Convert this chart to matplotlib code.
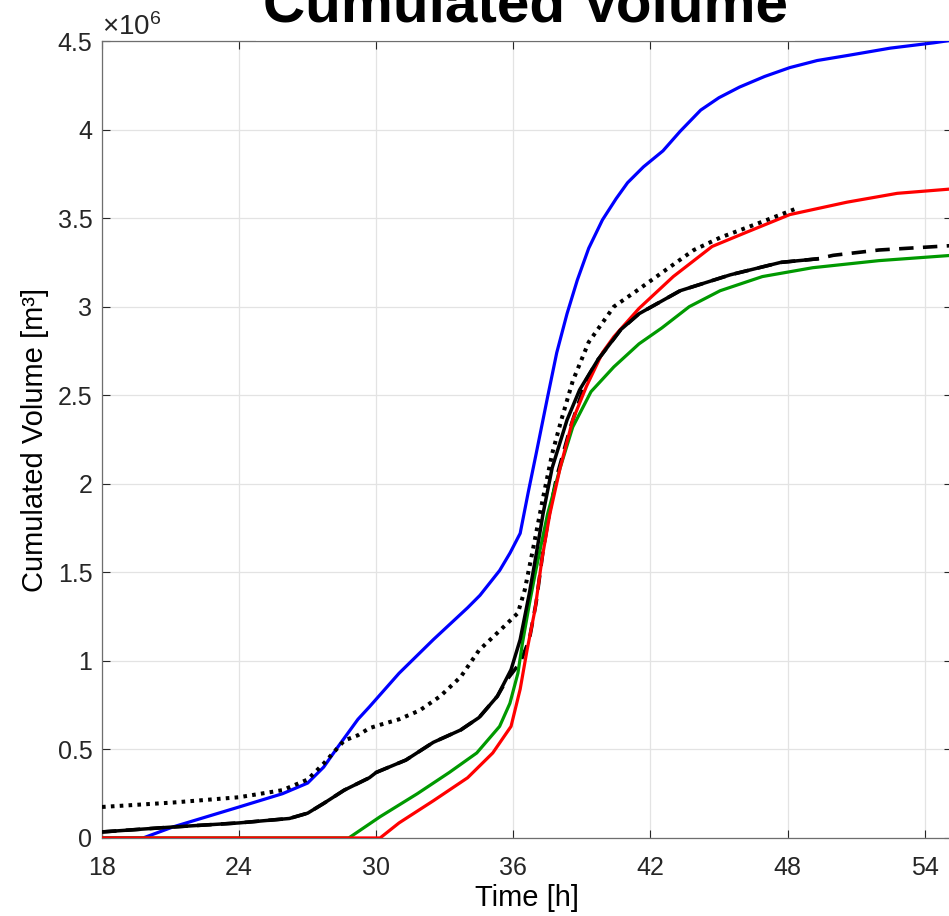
import matplotlib.pyplot as plt
from matplotlib.ticker import FuncFormatter

plt.rcParams['font.family'] = ['Liberation Sans', 'DejaVu Sans']
plt.rcParams['mathtext.default'] = 'regular'

# values in 10^6 m3, time in hours
blue_t = [18, 19.8, 21.1, 24.0, 25.9, 27.0, 27.7, 28.3, 29.2, 29.7, 31.0, 32.5, 34.0, 34.54,
          35.4, 35.86, 36.3, 36.65, 37.0, 37.5, 37.9, 38.35, 38.8, 39.3, 39.9, 40.5, 41.0,
          41.7, 42.55, 43.3, 44.2, 45.0, 45.9, 47.0, 48.1, 49.3, 50.7, 52.5, 54.4, 55.2]
blue_v = [0, 0, 0.062, 0.175, 0.25, 0.31, 0.40, 0.51, 0.67, 0.74, 0.93, 1.12, 1.30, 1.37,
          1.51, 1.61, 1.72, 1.95, 2.17, 2.49, 2.74, 2.96, 3.15, 3.33, 3.49, 3.61, 3.70,
          3.79, 3.88, 3.99, 4.11, 4.18, 4.24, 4.30, 4.35, 4.39, 4.42, 4.46, 4.49, 4.505]

red_t = [18, 30.17, 31.0, 32.5, 34.0, 35.1, 35.9, 36.3, 36.6, 36.95, 37.26, 37.6, 38.05, 38.6,
         39.2, 39.9, 40.4, 41.5, 43.0, 44.0, 44.7, 46.2, 48.1, 50.6, 52.8, 55.2]
red_v = [0, 0, 0.085, 0.21, 0.34, 0.48, 0.63, 0.84, 1.06, 1.29, 1.58, 1.83, 2.09, 2.36,
         2.55, 2.74, 2.83, 2.99, 3.17, 3.27, 3.34, 3.42, 3.52, 3.59, 3.64, 3.665]

green_t = [18, 28.8, 30.17, 31.8, 33.2, 34.4, 35.4, 35.85, 36.2, 36.4, 36.7, 37.0, 37.5, 38.05,
           38.6, 39.4, 40.4, 41.5, 42.5, 43.7, 45.05, 46.9, 49.1, 52.0, 55.2]
green_v = [0, 0, 0.12, 0.25, 0.37, 0.48, 0.63, 0.76, 0.93, 1.10, 1.32, 1.52, 1.83, 2.09,
           2.32, 2.52, 2.66, 2.79, 2.88, 3.0, 3.09, 3.17, 3.22, 3.26, 3.29]

black_t = [18, 21.1, 24, 26.2, 27.0, 27.7, 28.6, 29.7, 30.0, 31.3, 32.5, 33.7, 34.5, 35.3,
           35.9, 36.3, 36.7, 37.0, 37.3, 37.7, 38.35, 38.9, 39.7, 40.7, 41.5, 43.3, 45.5,
           47.7, 49.3]
black_v = [0.034, 0.062, 0.085, 0.11, 0.14, 0.195, 0.27, 0.34, 0.37, 0.44, 0.54, 0.61, 0.68, 0.80,
           0.95, 1.12, 1.38, 1.60, 1.83, 2.09, 2.36, 2.53, 2.70, 2.87, 2.96, 3.09, 3.18,
           3.25, 3.27]

dash_t = [18, 21.1, 24, 26.2, 27.0, 27.7, 28.6, 29.7, 30.0, 31.3, 32.5, 33.7, 34.5, 35.3,
          35.7, 36.3, 36.7, 37.0, 37.3, 37.6, 37.9, 38.5, 39.2, 39.7, 40.7, 41.5, 43.3, 45.5,
          47.7, 49.3, 50.0, 52.0, 55.2]
dash_v = [0.034, 0.062, 0.085, 0.11, 0.14, 0.195, 0.27, 0.34, 0.37, 0.44, 0.54, 0.61, 0.68, 0.80,
          0.89, 0.99, 1.12, 1.33, 1.62, 1.85, 2.04, 2.32, 2.59, 2.70, 2.87, 2.96, 3.09, 3.18,
          3.25, 3.27, 3.29, 3.32, 3.345]

dot_t = [18, 21.1, 24, 25.9, 27.0, 27.7, 28.6, 29.2, 29.7, 30.2, 31.0, 31.9, 32.8, 33.7,
         34.5, 35.4, 36.2, 36.5, 36.86, 37.3, 37.7, 38.1, 38.6, 39.3, 40.4, 41.4, 42.7,
         43.9, 45.05, 46.7, 48.3]
dot_v = [0.175, 0.20, 0.23, 0.27, 0.33, 0.42, 0.55, 0.58, 0.62, 0.64, 0.67, 0.72, 0.80, 0.91,
         1.06, 1.17, 1.27, 1.40, 1.63, 1.92, 2.17, 2.36, 2.58, 2.80, 3.00, 3.09, 3.21,
         3.32, 3.39, 3.47, 3.55]

x_ticks = [18, 24, 30, 36, 42, 48, 54]
y_ticks = [0, 0.5, 1, 1.5, 2, 2.5, 3, 3.5, 4, 4.5]

fig = plt.figure(figsize=(9.49, 9.16), dpi=100)
ax = fig.add_axes([0.1075, 0.0852, 0.8957, 0.870])

lw = 2.3
ax.plot(dash_t, dash_v, color='black', lw=lw + 0.3, ls=(0, (4, 2.6)), zorder=3)
ax.plot(blue_t, blue_v, color='#0000ff', lw=lw, zorder=4)
ax.plot(green_t, green_v, color='#009900', lw=lw, zorder=4)
ax.plot(red_t, red_v, color='#ff0000', lw=lw, zorder=5)
ax.plot(black_t, black_v, color='black', lw=lw + 0.2, zorder=6)
ax.plot(dot_t, dot_v, color='black', lw=lw + 0.6, ls=(0, (0.9, 1.3)), zorder=6)

ax.set_xlim(18, 55.2)
ax.set_ylim(0, 4.5)
ax.set_xticks(x_ticks)
ax.set_yticks(y_ticks)
ax.yaxis.set_major_formatter(FuncFormatter(lambda v, p: '%g' % v))
ax.tick_params(direction='in', length=6, width=0.8, top=True, right=True,
               labelsize=18, colors='#262626')
ax.tick_params(axis='x', pad=13)
ax.tick_params(axis='y', pad=7)
ax.grid(True, color='#e3e3e3', lw=0.9)
ax.set_axisbelow(True)
for s in ax.spines.values():
    s.set_color('#6e6e6e')
    s.set_linewidth(0.9)

ax.set_xlabel('Time [h]', fontsize=21, labelpad=3)
ax.set_ylabel('Cumulated Volume [m³]', fontsize=21, labelpad=6)
ax.text(0.0, 1.0075, r'$\times10^{6}$', transform=ax.transAxes, fontsize=20,
        color='#262626', ha='left', va='baseline')

fig.text(0.554, 0.976, 'Cumulated Volume', fontsize=42, fontweight='bold',
         ha='center', va='baseline',
         bbox=dict(boxstyle='square,pad=0.12', facecolor='white', edgecolor='none', alpha=0.57))

fig.savefig('out.png', dpi=100)
